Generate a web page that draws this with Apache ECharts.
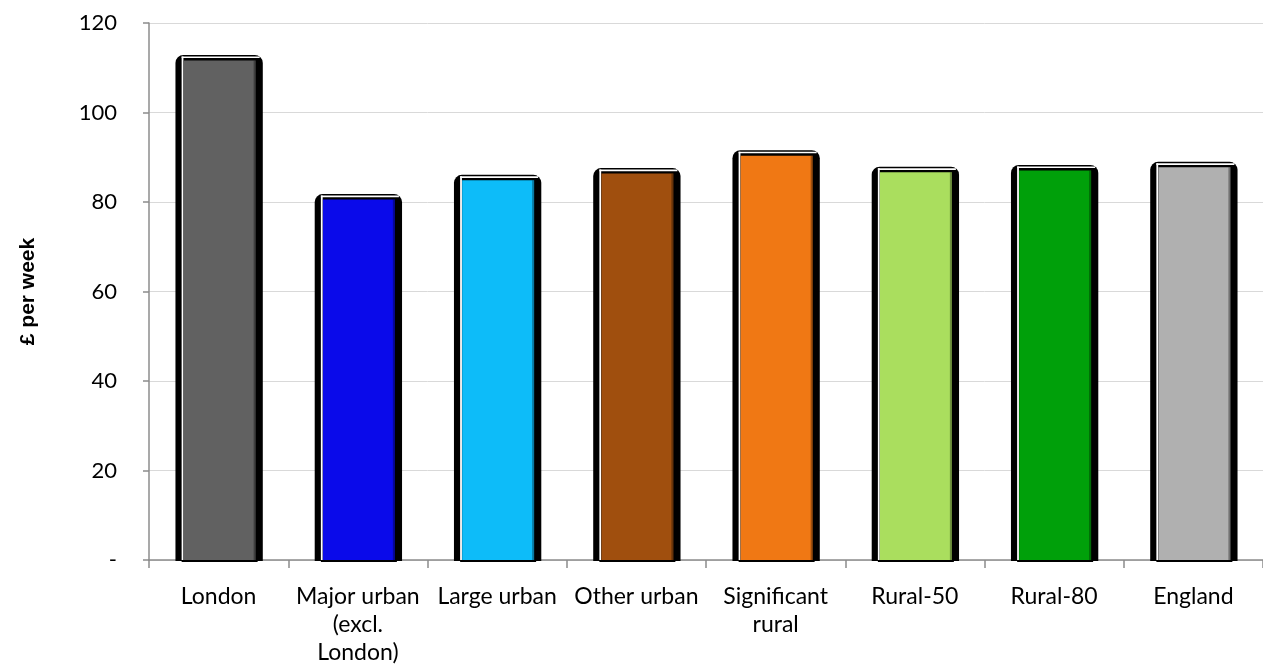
<!DOCTYPE html>
<html>
<head>
<meta charset="utf-8">
<script src="https://cdn.jsdelivr.net/npm/echarts@6/dist/echarts.min.js"></script>
<style>
html,body{margin:0;padding:0;background:#fff;}
#chart{width:1263px;height:670px;}
</style>
</head>
<body>
<div id="chart"></div>
<script>
var categories = ['London', 'Major urban\n(excl.\nLondon)', 'Large urban', 'Other urban', 'Significant\nrural', 'Rural-50', 'Rural-80', 'England'];
var values = [112.2, 81.1, 85.4, 86.9, 90.9, 87.2, 87.6, 88.3];
var barColors = ['#616161', '#0a0aea', '#0dbcf9', '#a04f0e', '#f07814', '#aade5e', '#00a00a', '#b0b0b0'];
var yTicks = [0, 20, 40, 60, 80, 100, 120];

var chart = echarts.init(document.getElementById('chart'), null, {renderer: 'canvas'});

function renderBar(params, api) {
  var idx = api.value(0), v = api.value(1);
  var top = api.coord([idx, v]);
  var base = api.coord([idx, 0]);
  var band = api.size([1, 0])[0];
  var cx = top[0];
  var half = band * 0.31;
  var T = top[1] - 3;
  var B = base[1];
  var col = barColors[params.dataIndex];
  return {
    type: 'group',
    children: [
      {type: 'rect', shape: {x: cx - half, y: T, width: half * 2 + 1, height: B - T + 1, r: [8, 8, 0, 0]}, style: {fill: '#000'}},
      {type: 'rect', shape: {x: cx - 37, y: T + 1.5, width: 78, height: 1.6}, style: {fill: '#fff'}},
      {type: 'rect', shape: {x: cx - 37, y: T + 1.5, width: 1.8, height: B - T - 1.5}, style: {fill: '#fff'}},
      {type: 'rect', shape: {x: cx - 35, y: T + 5.5, width: 72, height: B - T - 5.5}, style: {fill: col}},
      {type: 'rect', shape: {x: cx + 35, y: T + 5.5, width: 2, height: B - T - 5.5}, style: {fill: 'rgba(0,0,0,0.35)'}},
      {type: 'rect', shape: {x: cx - 37, y: B, width: 76, height: 2}, style: {fill: '#000'}}
    ]
  };
}

var option = {
  backgroundColor: '#fff',
  animation: false,
  grid: {left: 149, top: 23, width: 1122, height: 537, containLabel: false},
  xAxis: {
    type: 'category',
    data: categories,
    axisLine: {lineStyle: {color: '#8c8c8c', width: 1.5}},
    axisTick: {show: true, length: 8, lineStyle: {color: '#8c8c8c', width: 1.5}},
    axisLabel: {color: '#000', fontFamily: 'Lato', fontSize: 23, lineHeight: 28, margin: 23, interval: 0}
  },
  yAxis: {
    type: 'value',
    min: 0, max: 120, interval: 20,
    name: '£ per week',
    nameLocation: 'middle',
    nameRotate: 90,
    nameGap: 110,
    nameTextStyle: {color: '#000', fontFamily: 'Liberation Sans', fontWeight: 'bold', fontSize: 21},
    axisLine: {show: true, lineStyle: {color: '#8c8c8c', width: 1.5}},
    axisTick: {show: true, length: 6, lineStyle: {color: '#8c8c8c', width: 1.5}},
    splitLine: {show: true, lineStyle: {color: '#d9d9d9', width: 1}},
    axisLabel: {
      color: '#000', fontFamily: 'Lato', fontSize: 22, margin: 32,
      formatter: function (v) { return v === 0 ? '-' : String(v); }
    }
  },
  series: [{
    type: 'custom',
    renderItem: renderBar,
    encode: {x: 0, y: 1},
    data: values.map(function (v, i) { return [i, v]; }),
    z: 3
  }]
};
chart.setOption(option);
</script>
</body>
</html>
